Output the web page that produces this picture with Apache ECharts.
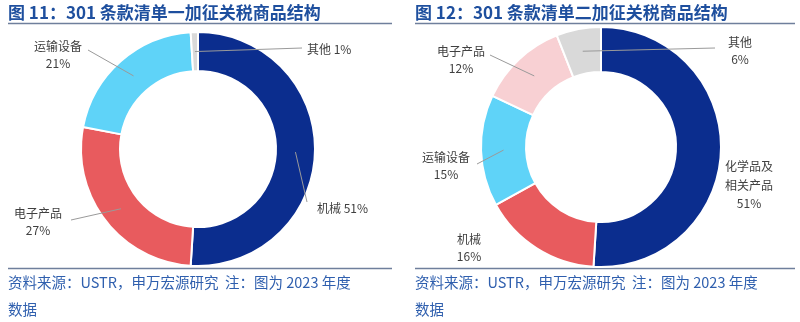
<!DOCTYPE html>
<html><head><meta charset="utf-8">
<script src="https://cdn.jsdelivr.net/npm/echarts@6/dist/echarts.min.js"></script>
<style>html,body{margin:0;padding:0;background:#fff}#c{width:800px;height:322px}</style>
</head><body><div id="c"></div>
<script>
// ---- data ----
const leftTitle = '图 11：301 条款清单一加征关税商品结构';
const rightTitle = '图 12：301 条款清单二加征关税商品结构';
const footLine1 = '资料来源：USTR，申万宏源研究  注：图为 2023 年度';
const footLine2 = '数据';
const leftNames = ['机械', '电子产品', '运输设备', '其他'];
const leftValues = [51, 27, 21, 1];
const rightNames = ['化学品及相关产品', '机械', '运输设备', '电子产品', '其他'];
const rightValues = [51, 16, 15, 12, 6];

// ---- styles / layout ----
const colorsLeft = ['#0b2d8e', '#e85b5e', '#5fd3f8', '#d9d9d9'];
const colorsRight = ['#0b2d8e', '#e85b5e', '#5fd3f8', '#f8d0d3', '#d9d9d9'];
const FONT = '"Noto Sans CJK SC", "Noto Sans", sans-serif';
const charts = [
  { center: [198, 149], radius: [78, 117],
    labels: [
      { x: 317, y: 208, align: 'left', one: true, line: [307, 202] },
      { x: 38, y: 222, align: 'center', line: [71, 220] },
      { x: 58, y: 55, align: 'center', line: [88, 50] },
      { x: 307, y: 49, align: 'left', one: true, line: [302, 48] }
    ] },
  { center: [601, 147], radius: [75, 120],
    labels: [
      { x: 749, y: 185, align: 'center', split: 4, line: null },
      { x: 469, y: 248, align: 'center', line: null },
      { x: 446, y: 166, align: 'center', line: [477, 164] },
      { x: 461, y: 60, align: 'center', line: [490, 55] },
      { x: 740, y: 51, align: 'center', line: [715, 48] }
    ] }
];

function midPoint(values, idx, cfg) {
  const total = values.reduce((a, b) => a + b, 0);
  let cum = 0;
  for (let i = 0; i < idx; i++) cum += values[i];
  cum += values[idx] / 2;
  const ang = (90 - 360 * cum / total) * Math.PI / 180;
  const r = (cfg.radius[0] + cfg.radius[1]) / 2;
  return [cfg.center[0] + r * Math.cos(ang), cfg.center[1] - r * Math.sin(ang)];
}

function ringSeries(names, values, colors, cfg) {
  return {
    type: 'pie', z: 2, silent: true,
    center: cfg.center, radius: cfg.radius,
    startAngle: 90, clockwise: true, animation: false,
    itemStyle: { borderColor: '#fff', borderWidth: 2 },
    label: { show: false }, labelLine: { show: false },
    data: names.map((n, i) => ({ name: n, value: values[i], itemStyle: { color: colors[i] } }))
  };
}

function labelSeries(names, values, cfg) {
  return {
    type: 'pie', z: 5, silent: true,
    center: cfg.center, radius: cfg.radius,
    startAngle: 90, clockwise: true, animation: false,
    avoidLabelOverlap: false,
    itemStyle: { color: 'rgba(0,0,0,0)', borderWidth: 0 },
    label: {
      show: true, position: 'outside', color: '#404040', fontSize: 12, fontFamily: FONT,
      lineHeight: 17,
      formatter: p => {
        const L = cfg.labels[p.dataIndex];
        let n = p.name;
        if (L.split) n = n.slice(0, L.split) + '\n' + n.slice(L.split);
        return L.one ? n + ' ' + p.value + '%' : n + '\n' + p.value + '%';
      }
    },
    labelLine: { show: true, lineStyle: { color: '#9a9a9a', width: 1 } },
    labelLayout: p => {
      const L = cfg.labels[p.dataIndex];
      const res = { x: L.x, y: L.y, align: L.align, verticalAlign: 'middle' };
      if (L.line) {
        const s = midPoint(values, p.dataIndex, cfg);
        res.labelLinePoints = [s, L.line, L.line];
      }
      return res;
    },
    data: names.map((n, i) => ({
      name: n, value: values[i],
      labelLine: { show: !!cfg.labels[i].line },
      label: cfg.labels[i].split ? { lineHeight: 18.5 } : {}
    }))
  };
}

const chart = echarts.init(document.getElementById('c'), null, { renderer: 'canvas' });
const titleStyle = { fill: '#1e4f9e', font: 'bold 17px ' + FONT };
const footStyle = { fill: '#2f5fae', font: '14.5px ' + FONT };
chart.setOption({
  backgroundColor: '#fff',
  series: [
    ringSeries(leftNames, leftValues, colorsLeft, charts[0]),
    ringSeries(rightNames, rightValues, colorsRight, charts[1]),
    labelSeries(leftNames, leftValues, charts[0]),
    labelSeries(rightNames, rightValues, charts[1])
  ],
  graphic: [
    { type: 'text', left: 8, top: 4, style: Object.assign({ text: leftTitle }, titleStyle) },
    { type: 'text', left: 415, top: 4, style: Object.assign({ text: rightTitle }, titleStyle) },
    { type: 'line', shape: { x1: 8, y1: 23.5, x2: 392, y2: 23.5 }, style: { stroke: '#6f7f9c', lineWidth: 1.5 } },
    { type: 'line', shape: { x1: 415, y1: 23.5, x2: 795, y2: 23.5 }, style: { stroke: '#6f7f9c', lineWidth: 1.5 } },
    { type: 'line', shape: { x1: 8, y1: 268.5, x2: 392, y2: 268.5 }, style: { stroke: '#6f7f9c', lineWidth: 1.5 } },
    { type: 'line', shape: { x1: 415, y1: 268.5, x2: 795, y2: 268.5 }, style: { stroke: '#6f7f9c', lineWidth: 1.5 } },
    { type: 'text', left: 8, top: 275, style: Object.assign({ text: footLine1 }, footStyle) },
    { type: 'text', left: 8, top: 302, style: Object.assign({ text: footLine2 }, footStyle) },
    { type: 'text', left: 415, top: 275, style: Object.assign({ text: footLine1 }, footStyle) },
    { type: 'text', left: 415, top: 302, style: Object.assign({ text: footLine2 }, footStyle) }
  ]
});
</script></body></html>
